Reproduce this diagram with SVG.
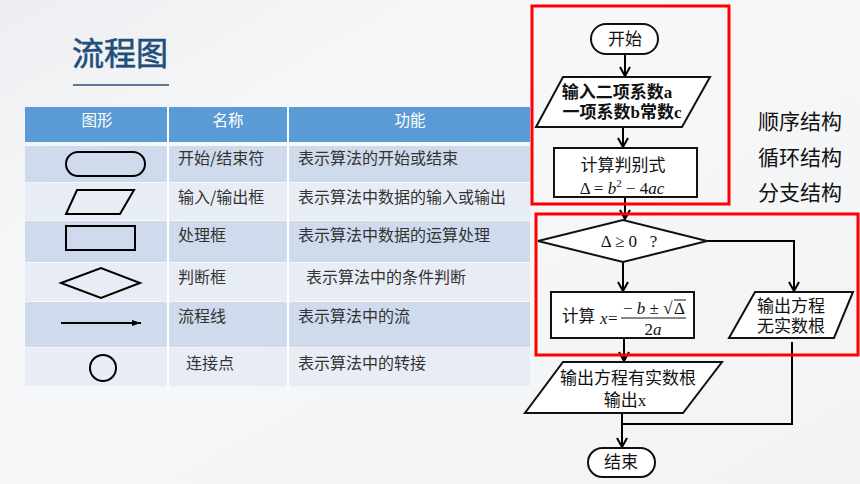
<svg xmlns="http://www.w3.org/2000/svg" width="860" height="484" viewBox="0 0 860 484">
<defs>
<style>
.cjk{font-family:"Noto Sans CJK SC","Noto Sans",sans-serif;}
.ser{font-family:"Liberation Serif","Noto Sans CJK SC",serif;}
.hd{font-size:15.5px;fill:#ffffff;text-anchor:middle;}
.cell{font-size:16px;fill:#333333;}
.fs{fill:none;stroke:#000;stroke-width:2;}
.ln{fill:none;stroke:#000;stroke-width:2;}
.node{fill:#ffffff;stroke:#111;stroke-width:2;}
.ft{font-size:17px;fill:#111;text-anchor:middle;}
.red{fill:none;stroke:#ff0000;stroke-width:3;}
.math{font-family:"Liberation Serif",serif;font-size:17px;fill:#111;}
</style>
<marker id="ah" markerWidth="12" markerHeight="12" refX="10" refY="6" orient="auto" markerUnits="userSpaceOnUse">
<path d="M1,1 L10,6 L1,11" fill="none" stroke="#000" stroke-width="2"/>
</marker>
<marker id="ah2" markerWidth="10" markerHeight="8" refX="9" refY="4" orient="auto" markerUnits="userSpaceOnUse">
<path d="M0,1 L9,4 L0,7 Z" fill="#000"/>
</marker>
<linearGradient id="bg" x1="0" y1="0" x2="1" y2="1">
<stop offset="0" stop-color="#eceef1"/>
<stop offset="0.3" stop-color="#f7f8f9"/>
<stop offset="1" stop-color="#f2f3f5"/>
</linearGradient>
</defs>
<rect x="0" y="0" width="860" height="484" fill="url(#bg)"/>

<g id="title">
<text x="72" y="65" class="cjk" font-size="32" fill="#1f4e79" stroke="#1f4e79" stroke-width="0.6">流程图</text>
<line x1="73" y1="85" x2="169" y2="85" stroke="#2e4f7a" stroke-width="1.5"/>
</g>

<g id="table">
<rect x="25" y="107" width="505" height="35" fill="#5b9bd5"/>
<rect x="25" y="146" width="505" height="36" fill="#cfdbec"/>
<rect x="25" y="183" width="505" height="37" fill="#e8edf5"/>
<rect x="25" y="221" width="505" height="41" fill="#cfdbec"/>
<rect x="25" y="263" width="505" height="38" fill="#e8edf5"/>
<rect x="25" y="302" width="505" height="45" fill="#cfdbec"/>
<rect x="25" y="348" width="505" height="38" fill="#e8edf5"/>
<line x1="168" y1="107" x2="168" y2="386" stroke="#ffffff" stroke-width="2"/>
<line x1="288" y1="107" x2="288" y2="386" stroke="#ffffff" stroke-width="2"/>
<text x="97" y="126" class="cjk hd">图形</text>
<text x="228" y="126" class="cjk hd">名称</text>
<text x="410" y="126" class="cjk hd">功能</text>
<text x="178" y="164" class="cjk cell">开始/结束符</text>
<text x="298" y="164" class="cjk cell">表示算法的开始或结束</text>
<text x="178" y="203" class="cjk cell">输入/输出框</text>
<text x="298" y="203" class="cjk cell">表示算法中数据的输入或输出</text>
<text x="178" y="241" class="cjk cell">处理框</text>
<text x="298" y="241" class="cjk cell">表示算法中数据的运算处理</text>
<text x="178" y="283" class="cjk cell">判断框</text>
<text x="306" y="283" class="cjk cell">表示算法中的条件判断</text>
<text x="178" y="322" class="cjk cell">流程线</text>
<text x="298" y="322" class="cjk cell">表示算法中的流</text>
<text x="186" y="369" class="cjk cell">连接点</text>
<text x="298" y="369" class="cjk cell">表示算法中的转接</text>
<rect x="66" y="152" width="79" height="24" rx="12" class="fs"/>
<polygon points="77,190 134,190 120,214 66,214" class="fs"/>
<rect x="66" y="226" width="69" height="24" class="fs"/>
<polygon points="61,283 101,268 140,283 101,298" class="fs"/>
<line x1="61" y1="323" x2="141" y2="323" stroke="#000" stroke-width="2" marker-end="url(#ah2)"/>
<circle cx="103" cy="368" r="13" class="fs"/>
</g>

<g id="connectors">
<line x1="625" y1="54" x2="625" y2="76" class="ln" marker-end="url(#ah)"/>
<line x1="623" y1="127" x2="623" y2="147" class="ln" marker-end="url(#ah)"/>
<line x1="625" y1="197" x2="625" y2="219" class="ln" marker-end="url(#ah)"/>
<line x1="623" y1="262" x2="623" y2="291" class="ln" marker-end="url(#ah)"/>
<polyline points="707,241 794,241 794,291" class="ln" marker-end="url(#ah)"/>
<line x1="624" y1="338" x2="624" y2="361" class="ln" marker-end="url(#ah)"/>
<polyline points="792,342 792,424 622,424" class="ln"/>
<line x1="622" y1="413" x2="622" y2="447" class="ln" marker-end="url(#ah)"/>
</g>

<g id="start">
<rect x="591" y="24" width="67" height="30" rx="15" class="node"/>
<text x="625" y="45" class="ser ft">开始</text>
</g>

<g id="input">
<polygon points="563,77 710,77 682,127 536,127" class="node"/>
<text x="617" y="98" class="ser ft" font-size="16" font-weight="bold">输入二项系数a</text>
<text x="622" y="118" class="ser ft" font-size="16" font-weight="bold">一项系数b常数c</text>
</g>

<g id="disc">
<rect x="554" y="148" width="143" height="49" class="node"/>
<text x="623" y="171" class="ser ft" font-size="16.5">计算判别式</text>
<text x="622" y="194" class="math" font-size="18" text-anchor="middle">Δ = <tspan font-style="italic">b</tspan><tspan font-size="11" dy="-7">2</tspan><tspan dy="7"> − 4</tspan><tspan font-style="italic">ac</tspan></text>
</g>

<g id="decision">
<polygon points="538,241 623,220 707,241 623,262" class="node"/>
<text x="629" y="247" class="math" font-size="19" text-anchor="middle" xml:space="preserve">Δ ≥ 0   ?</text>
</g>

<g id="calc">
<rect x="551" y="292" width="143" height="46" class="node"/>
<text x="562" y="322" class="ser" font-size="16.5" fill="#111">计算</text>
<text x="600" y="324" class="math" font-style="italic">x</text>
<text x="608" y="324" class="math">=</text>
<text x="623" y="314" class="math">− <tspan font-style="italic">b</tspan> ± √</text>
<line x1="674" y1="300" x2="686" y2="300" stroke="#111" stroke-width="1"/>
<text x="674" y="314" class="math">Δ</text>
<line x1="621" y1="318" x2="686" y2="318" stroke="#111" stroke-width="1"/>
<text x="653" y="335" class="math" text-anchor="middle">2<tspan font-style="italic">a</tspan></text>
</g>

<g id="noroot">
<polygon points="755,292 853,292 834,338 729,338" class="node"/>
<text x="791" y="312" class="ser ft">输出方程</text>
<text x="791" y="332" class="ser ft">无实数根</text>
</g>

<g id="output">
<polygon points="563,362 722,362 683,413 525,413" class="node"/>
<text x="628" y="384" class="ser ft">输出方程有实数根</text>
<text x="625" y="406" class="ser ft">输出x</text>
</g>

<g id="end">
<rect x="588" y="448" width="67" height="29" rx="14.5" class="node"/>
<text x="621" y="468" class="ser ft">结束</text>
</g>

<g id="labels">
<text x="758" y="129" class="cjk" font-size="21" fill="#111">顺序结构</text>
<text x="758" y="165" class="cjk" font-size="21" fill="#111">循环结构</text>
<text x="758" y="200" class="cjk" font-size="21" fill="#111">分支结构</text>
</g>

<g id="frames">
<rect x="532" y="6" width="197" height="198" class="red"/>
<rect x="536" y="214" width="322" height="141" class="red"/>
</g>
</svg>
